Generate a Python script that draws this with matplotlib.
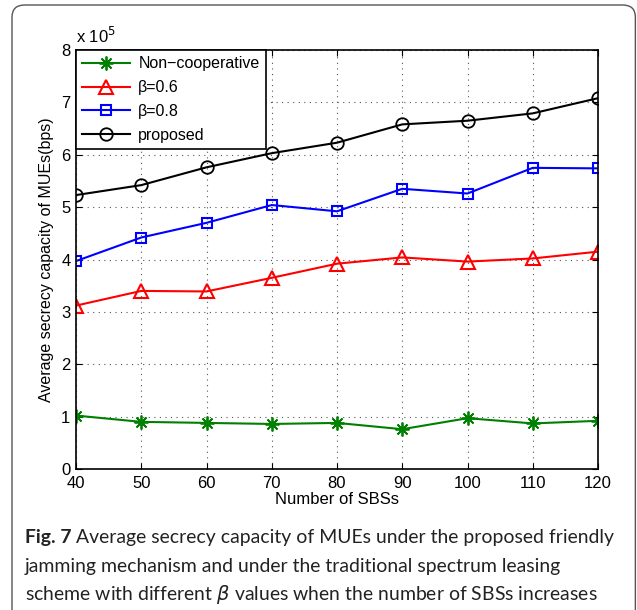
import numpy as np
import matplotlib.pyplot as plt
from matplotlib.patches import FancyBboxPatch

plt.rcParams['font.family'] = ['Liberation Sans', 'DejaVu Sans']
plt.rcParams['font.size'] = 11.5

# number of SBSs and secrecy capacity (x 10^5 bps)
num_sbs = [40, 50, 60, 70, 80, 90, 100, 110, 120]
non_coop = [1.02, 0.90, 0.88, 0.86, 0.88, 0.76, 0.97, 0.87, 0.92]
beta_06 = [3.12, 3.40, 3.39, 3.65, 3.92, 4.04, 3.96, 4.02, 4.15]
beta_08 = [3.97, 4.42, 4.70, 5.04, 4.92, 5.35, 5.26, 5.75, 5.74]
proposed = [5.23, 5.42, 5.76, 6.03, 6.23, 6.58, 6.65, 6.79, 7.08]
labels = ['Non\u2212cooperative', '\u03b2=0.6', '\u03b2=0.8', 'proposed']

fig = plt.figure(figsize=(6.37, 6.10), dpi=100)
ax = fig.add_axes([76/637, 1-469/610, (598-76)/637, (469-50)/610])

ax.plot(num_sbs, non_coop, color=(0, 0.5, 0), marker=(8, 2, 0), ms=10, mew=1.3, lw=1.5, label=labels[0])
ax.plot(num_sbs, beta_06, color='red', marker='^', ms=10, mfc='none', mew=1.5, lw=1.5, label=labels[1])
ax.plot(num_sbs, beta_08, color='blue', marker='s', ms=7.5, mfc='none', mew=1.5, lw=1.5, label=labels[2])
ax.plot(num_sbs, proposed, color='black', marker='o', ms=9, mfc='none', mew=1.3, lw=1.5, label=labels[3])

ax.set_xlim(40, 120)
ax.set_ylim(0, 8)
ax.set_xticks(np.arange(40, 121, 10))
ax.set_yticks(np.arange(0, 9, 1))
ax.tick_params(direction='in', top=True, right=True, length=4, labelsize=12)
ax.tick_params(axis='x', pad=5)
ax.tick_params(axis='y', pad=4)
ax.grid(True, linestyle=(0, (1, 4)), color='#555555', lw=0.8)
for s in ax.spines.values():
    s.set_linewidth(1.2)
ax.set_xlabel('Number of SBSs', labelpad=1, fontsize=12)
ax.set_ylabel('Average secrecy capacity of MUEs(bps)', labelpad=5, fontsize=11.5)
ax.text(0, 1.01, 'x 10$^5$', transform=ax.transAxes, ha='left', va='bottom', fontsize=12)

leg = ax.legend(loc='upper left', borderaxespad=0, fancybox=False, edgecolor='black',
                framealpha=1, handlelength=3.0, fontsize=11.5, labelspacing=0.55,
                borderpad=0.4, handletextpad=0.5)
leg.get_frame().set_linewidth(1.2)

# page frame around the figure and caption
frame = FancyBboxPatch((12/637, -0.2), 624/637 - 0.001, 1.2 - 5/610,
                       boxstyle='round,pad=0,rounding_size=0.02', transform=fig.transFigure,
                       fill=False, edgecolor='#555555', lw=1.0, clip_on=False)
fig.patches.append(frame)

cfont = ['Lato', 'DejaVu Sans']
ccol = '#222222'
lines = ['Average secrecy capacity of MUEs under the proposed friendly',
         'jamming mechanism and under the traditional spectrum leasing',
         'scheme with different $\\beta$ values when the number of SBSs increases']
r = fig.canvas.get_renderer()

# size the caption so its last line spans about 574 px
probe = fig.text(0, 0, lines[2], fontsize=14, family=cfont)
w = probe.get_window_extent(renderer=r).width
probe.remove()
csize = 14 * 574 / w

x0 = 25 / 637
fig_lbl = fig.text(x0, 1-543/610, 'Fig. 7', fontsize=csize, fontweight='bold',
                   family=cfont, va='baseline', color=ccol)
bb = fig_lbl.get_window_extent(renderer=r)
fig.text(bb.x1/637 + 5/637, 1-543/610, lines[0], fontsize=csize, family=cfont,
         va='baseline', color=ccol)
fig.text(x0, 1-572/610, lines[1], fontsize=csize, family=cfont, va='baseline', color=ccol)
fig.text(x0, 1-600/610, lines[2], fontsize=csize, family=cfont, va='baseline', color=ccol)

fig.savefig('out.png', dpi=100)
